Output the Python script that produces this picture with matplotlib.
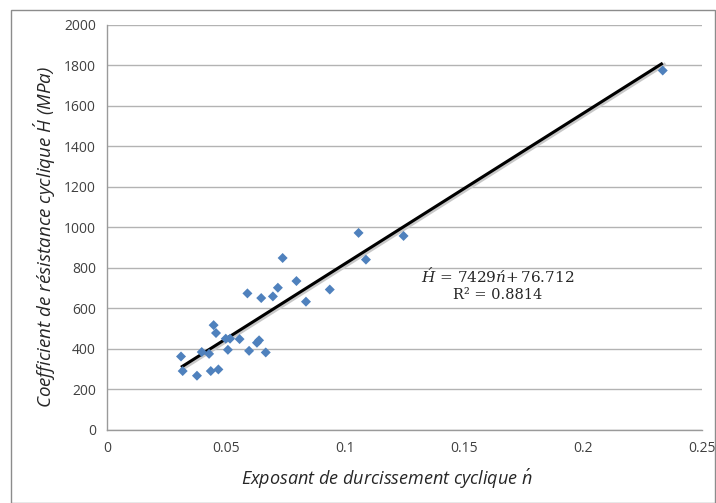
import matplotlib
matplotlib.use("Agg")
import matplotlib.pyplot as plt
from matplotlib.patches import Rectangle
import numpy as np

plt.rcParams["mathtext.fontset"] = "custom"
plt.rcParams["mathtext.rm"] = "Open Sans"
plt.rcParams["mathtext.it"] = "Open Sans:italic"
plt.rcParams["mathtext.bf"] = "DejaVu Serif:italic"
plt.rcParams["mathtext.sf"] = "DejaVu Serif"

# Data
n_vals = [0.0311, 0.0318, 0.0378, 0.0398, 0.0429, 0.0436, 0.0468, 0.0448, 0.0458,
          0.0499, 0.0517, 0.0508, 0.0557, 0.0590, 0.0597, 0.0630, 0.0639, 0.0648,
          0.0667, 0.0697, 0.0718, 0.0738, 0.0796, 0.0836, 0.0936, 0.1057, 0.1088,
          0.1246, 0.2335]
H_vals = [361, 289, 266, 383, 374, 289, 297, 516, 477,
          449, 449, 394, 447, 673, 389, 429, 441, 650,
          381, 658, 701, 848, 734, 632, 692, 972, 840,
          957, 1775]
slope = 7429
intercept = 76.712
r2 = 0.8814
x_ticks = [0, 0.05, 0.1, 0.15, 0.2, 0.25]
x_tick_labels = ["0", "0.05", "0.1", "0.15", "0.2", "0.25"]
y_ticks = [0, 200, 400, 600, 800, 1000, 1200, 1400, 1600, 1800, 2000]

fig = plt.figure(figsize=(7.16, 5.03), dpi=100)
W, H = 716, 503
ax = fig.add_axes([107 / W, 1 - 429.5 / H, (702 - 107) / W, (429.5 - 25) / H])

ax.set_xlim(0, 0.25)
ax.set_ylim(0, 2000)
ax.set_yticks(y_ticks)
ax.set_xticks(x_ticks)
ax.set_xticklabels(x_tick_labels)
ax.yaxis.grid(True, color="#b3b3b3", linewidth=1.0)
ax.set_axisbelow(True)
for s in ["top", "right"]:
    ax.spines[s].set_visible(False)
for s in ["left", "bottom"]:
    ax.spines[s].set_color("#9a9a9a")
    ax.spines[s].set_linewidth(1.0)
ax.tick_params(length=0, labelsize=10, colors="#404040", pad=8)
for lab in ax.get_xticklabels() + ax.get_yticklabels():
    lab.set_fontfamily("Open Sans")

# trend line
xl = np.array([min(n_vals), max(n_vals)])
ax.plot(xl + 0.0006, slope * xl + intercept - 8, color="#c8c8c8", linewidth=2.6, zorder=2)
ax.plot(xl, slope * xl + intercept, color="black", linewidth=2.2, zorder=3,
        solid_capstyle="butt")

ax.scatter(n_vals, H_vals, marker="D", s=26, color="#4F81BD", edgecolor="none", zorder=4)

eq = r"$\mathbf{\acute{H}}\,\mathsf{=}\,\mathsf{7429}\mathbf{\acute{n}}\mathsf{+}\,\mathsf{76.712}$"
ax.text(0.164, 760, eq, ha="center", va="center", fontsize=11, color="#262626")
ax.text(0.164, 665, "R\u00b2 = 0.8814", ha="center", va="center",
        fontsize=10.5, family="DejaVu Serif", color="#262626")

ax.set_xlabel(r"Exposant de durcissement cyclique $\acute{n}$", fontsize=13, style="italic",
              family="Open Sans", color="#262626", labelpad=8)
ax.xaxis.set_label_coords(0.47, -0.095)
ax.set_ylabel(r"Coefficient de résistance cyclique $\acute{H}$ (MPa)", fontsize=13.5, style="italic",
              family="Open Sans", color="#262626", labelpad=10)
ax.yaxis.set_label_coords(-0.082, 0.475)

# chart border
fig.patches.append(Rectangle((11 / W, 0), (W - 12) / W, 1 - 10 / H, transform=fig.transFigure,
                             fill=False, edgecolor="#8c8c8c", linewidth=1.0))

fig.savefig("out.png", dpi=100)
